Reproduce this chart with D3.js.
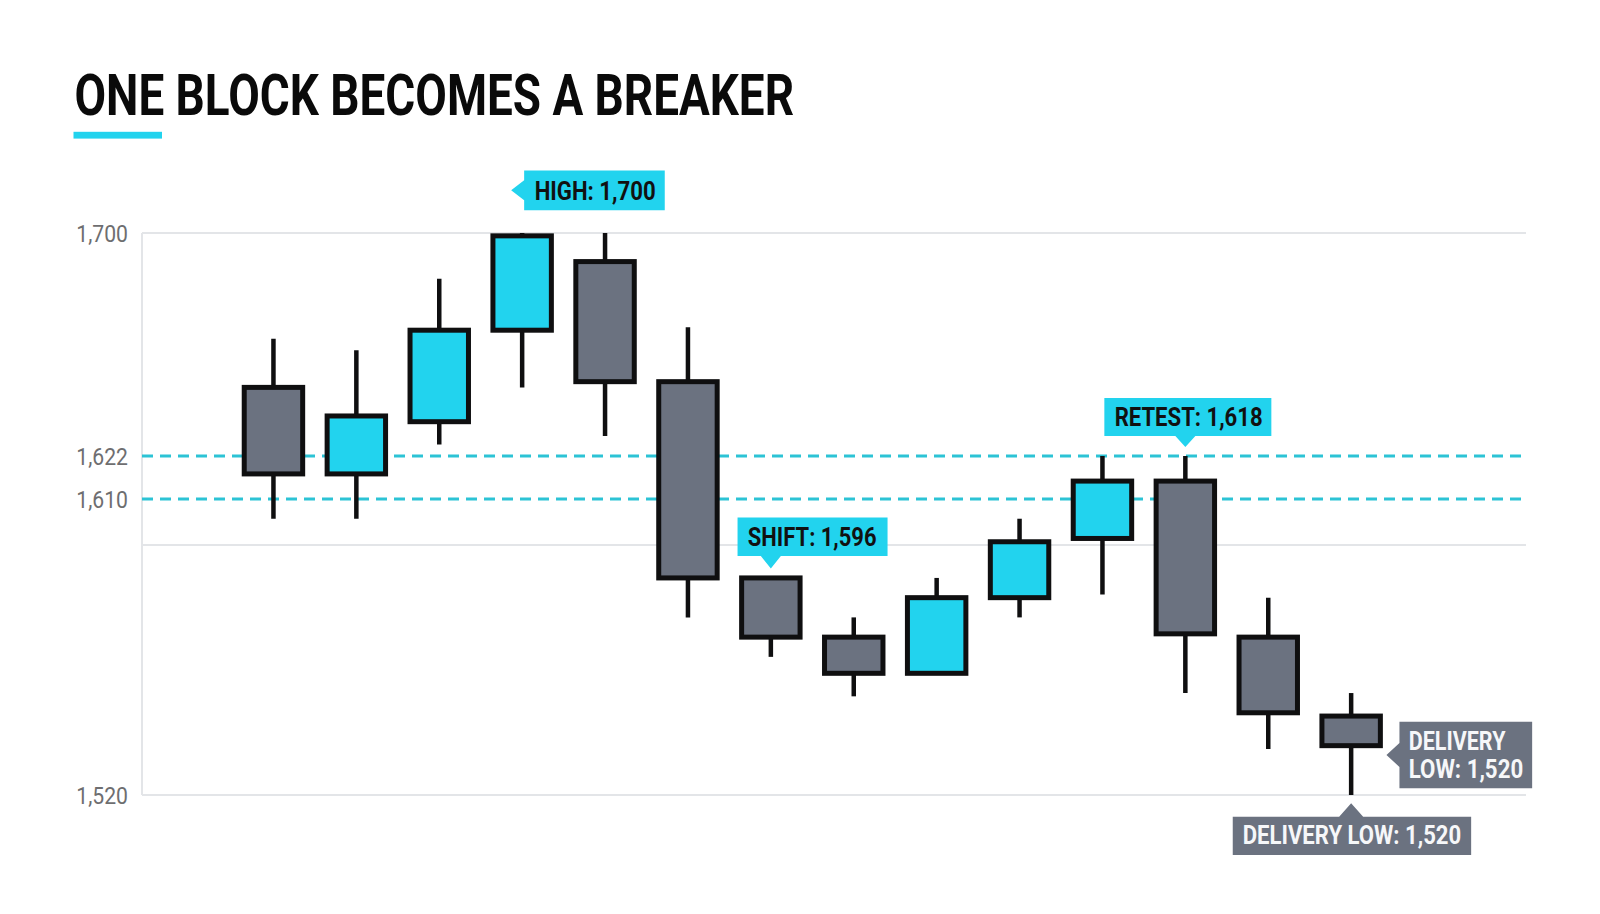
<!DOCTYPE html>
<html>
<head>
<meta charset="utf-8">
<script src="https://cdn.jsdelivr.net/npm/d3@7"></script>
<style>
  html, body { margin: 0; padding: 0; background: #ffffff; }
  svg { display: block; }
</style>
</head>
<body>
<svg id="chart" width="1600" height="914"></svg>
<script>
// ---------------- DATA ----------------
const categories  = ["C1","C2","C3","C4","C5","C6","C7","C8","C9","C10","C11","C12","C13","C14"];
const openValues  = [1646, 1617, 1634, 1666, 1690, 1648, 1586, 1568, 1557, 1580, 1598, 1615, 1568, 1544];
const highValues  = [1663, 1659, 1684, 1700, 1700, 1667, 1586, 1574, 1586, 1604, 1622, 1622, 1580, 1551];
const lowValues   = [1604, 1604, 1626, 1646, 1629, 1574, 1562, 1550, 1557, 1574, 1581, 1551, 1534, 1520];
const closeValues = [1617, 1636, 1666, 1699, 1648, 1586, 1568, 1557, 1580, 1597, 1615, 1569, 1545, 1535];

const yTickValues = [1520, 1610, 1622, 1700];
const yTickLabels = ["1,520", "1,610", "1,622", "1,700"];
const gridValues  = [1520, 1596, 1700];
const levelValues = [1610, 1622];

const titleText = "ONE BLOCK BECOMES A BREAKER";
const calloutTexts = [["HIGH: 1,700"], ["SHIFT: 1,596"], ["RETEST: 1,618"], ["DELIVERY", "LOW: 1,520"], ["DELIVERY LOW: 1,520"]];
const calloutCandle = [3, 6, 11, 13, 13];
const calloutValue  = [1700, 1586, 1622, 1535, 1520];

// ---------------- LAYOUT ----------------
const W = 1600, H = 914;
const plotLeft = 142, plotRight = 1526;
const CYAN = "#22d3ee", GREY = "#6b7280", INK = "#0f0f10";
const DASH = "#2cc3d5", GRID = "#e3e5e8";

const svg = d3.select("#chart");

const candles = categories.map((c, i) => ({
  cat: c, open: openValues[i], high: highValues[i], low: lowValues[i], close: closeValues[i]
}));

const x = d3.scaleBand()
  .domain(categories)
  .range([232, 1392.6])
  .paddingInner(0.295)
  .paddingOuter(0.1475);

const y = d3.scaleLinear()
  .domain([1520, 1610, 1622, 1700])
  .range([795, 499, 456, 233]);

const cx = c => x(c) + x.bandwidth() / 2;

// gridlines
svg.append("g").selectAll("line").data(gridValues).join("line")
  .attr("x1", plotLeft).attr("x2", plotRight)
  .attr("y1", d => y(d)).attr("y2", d => y(d))
  .attr("stroke", GRID).attr("stroke-width", 2);
svg.append("line")
  .attr("x1", plotLeft).attr("x2", plotLeft)
  .attr("y1", y(1700)).attr("y2", y(1520))
  .attr("stroke", GRID).attr("stroke-width", 2);

// dashed levels
svg.append("g").selectAll("line").data(levelValues).join("line")
  .attr("x1", plotLeft).attr("x2", plotRight)
  .attr("y1", d => y(d)).attr("y2", d => y(d))
  .attr("stroke", DASH).attr("stroke-width", 3)
  .attr("stroke-dasharray", "11 7");

// y axis labels
const axis = d3.axisLeft(y)
  .tickValues(yTickValues)
  .tickFormat((d, i) => yTickLabels[i])
  .tickSize(0)
  .tickPadding(14);
const axisG = svg.append("g").attr("transform", `translate(${plotLeft},0)`).call(axis);
axisG.select(".domain").remove();
axisG.selectAll("text")
  .attr("font-family", "Roboto, 'Noto Sans', sans-serif")
  .attr("font-size", 23.5)
  .attr("font-weight", 400)
  .attr("fill", "#6e6e70")
  .attr("dy", "0.36em");
axisG.selectAll("text").each(function () {
  const len = this.getComputedTextLength();
  d3.select(this).attr("textLength", len * 0.9).attr("lengthAdjust", "spacingAndGlyphs");
});

// candles
const cg = svg.append("g");
cg.selectAll("line.wick").data(candles).join("line")
  .attr("class", "wick")
  .attr("x1", d => cx(d.cat)).attr("x2", d => cx(d.cat))
  .attr("y1", d => y(d.high)).attr("y2", d => y(d.low))
  .attr("stroke", INK).attr("stroke-width", 4.5);
cg.selectAll("rect.body").data(candles).join("rect")
  .attr("class", "body")
  .attr("x", d => x(d.cat))
  .attr("width", x.bandwidth())
  .attr("y", d => y(Math.max(d.open, d.close)))
  .attr("height", d => Math.abs(y(d.open) - y(d.close)))
  .attr("fill", d => d.close >= d.open ? CYAN : GREY)
  .attr("stroke", INK).attr("stroke-width", 5);

// callouts (layout relative to anchor point on a candle)
const calloutLayout = [
  { dx: 2,      dy: -62.6, w: 140.6, h: 39.8, side: "left", tipDx: -11,  tipDy: -43,  half: 10, fill: CYAN, ink: "#111111", tx: 10.5, lines: [29.3], widths: [121] },
  { dx: -33.3,  dy: -60.5, w: 150,   h: 38.6, side: "down", tipDx: 0,    tipDy: -9.5, half: 10, fill: CYAN, ink: "#111111", tx: 10.3, lines: [28.4], widths: [128.7] },
  { dx: -81,    dy: -58,   w: 167,   h: 38,   side: "down", tipDx: 0,    tipDy: -9,   half: 10, fill: CYAN, ink: "#111111", tx: 10.3, lines: [28.0], widths: [148] },
  { dx: 48.3,   dy: -24,   w: 132.7, h: 66.6, side: "left", tipDx: 35.3, tipDy: 9.3,  half: 12, fill: GREY, ink: "#f6f7f9", tx: 9.3,  lines: [28.3, 56.6], widths: [96.7, 114.4] },
  { dx: -118.4, dy: 21.7,  w: 238.4, h: 38.3, side: "up",   tipDx: 0,    tipDy: 8.3,  half: 12, fill: GREY, ink: "#f6f7f9", tx: 10,   lines: [27.5], widths: [218.4] }
];

const callG = svg.append("g");
calloutLayout.forEach((L, i) => {
  const ax = cx(categories[calloutCandle[i]]);
  const ay = y(calloutValue[i]);
  const bx = ax + L.dx, by = ay + L.dy, bw = L.w, bh = L.h;
  const tX = ax + L.tipDx, tY = ay + L.tipDy;
  let p;
  if (L.side === "left") {
    const my = by + bh / 2;
    p = `M${bx},${by}H${bx + bw}V${by + bh}H${bx}V${my + L.half}L${tX},${my}L${bx},${my - L.half}Z`;
  } else if (L.side === "down") {
    p = `M${bx},${by}H${bx + bw}V${by + bh}H${tX + L.half}L${tX},${tY}L${tX - L.half},${by + bh}H${bx}Z`;
  } else {
    p = `M${bx},${by}H${tX - L.half}L${tX},${tY}L${tX + L.half},${by}H${bx + bw}V${by + bh}H${bx}Z`;
  }
  callG.append("path").attr("d", p).attr("fill", L.fill);
  calloutTexts[i].forEach((t, j) => {
    callG.append("text")
      .attr("x", bx + L.tx)
      .attr("y", by + L.lines[j])
      .attr("font-family", "Roboto, 'Noto Sans', sans-serif")
      .attr("font-weight", 700)
      .attr("font-size", 25.5)
      .attr("fill", L.ink)
      .attr("textLength", L.widths[j])
      .attr("lengthAdjust", "spacingAndGlyphs")
      .text(t);
  });
});

// title
svg.append("text")
  .attr("x", 74.5).attr("y", 115.3)
  .attr("font-family", "Roboto, 'Noto Sans', sans-serif")
  .attr("font-weight", 700)
  .attr("font-size", 57.5)
  .attr("fill", "#0a0a0a")
  .attr("textLength", 719.5)
  .attr("lengthAdjust", "spacingAndGlyphs")
  .text(titleText);
svg.append("rect")
  .attr("x", 73.5).attr("y", 131.8)
  .attr("width", 88.5).attr("height", 6.8)
  .attr("fill", CYAN);
</script>
</body>
</html>
